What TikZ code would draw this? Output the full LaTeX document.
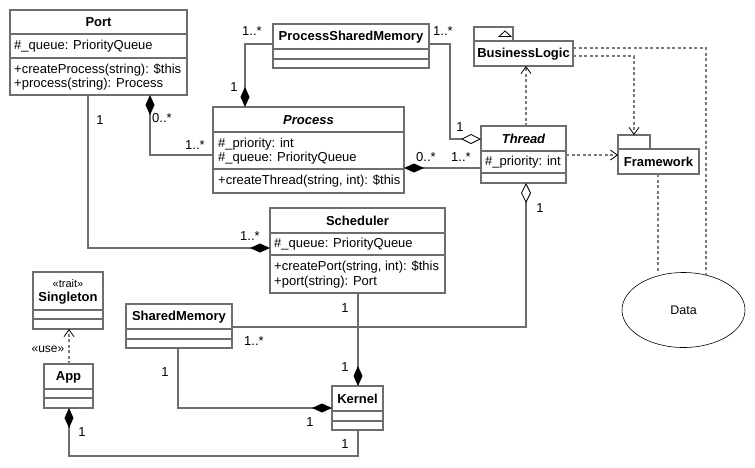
\documentclass[tikz,border=0pt]{standalone}
\usepackage{fontspec}
\setmainfont{Liberation Sans}
\usetikzlibrary{arrows.meta,shapes.geometric,calc}
\definecolor{lc}{HTML}{6E6E6E}
\definecolor{dc}{HTML}{7A7A7A}
\tikzset{
  classbox/.style={draw=lc, line width=1.4pt, inner sep=0pt, outer sep=0pt, fill=white},
  sepline/.style={draw=lc, line width=1.4pt},
  conn/.style={draw=lc, line width=1.4pt},
  depline/.style={draw=dc, line width=1.4pt, dash pattern=on 3pt off 2.5pt},
  title/.style={font=\fontsize{13}{14}\selectfont\bfseries, inner sep=0pt, anchor=center},
  ititle/.style={font=\fontsize{13}{14}\selectfont\bfseries\itshape, inner sep=0pt, anchor=center},
  member/.style={font=\fontsize{13}{14}\selectfont, inner sep=0pt, anchor=west, align=left},
  mult/.style={font=\fontsize{13}{14}\selectfont, inner sep=0pt, anchor=center},
  comp/.style={-{Diamond[length=20pt,width=9pt,fill=black,color=black]}},
  aggr/.style={-{Diamond[open,length=20pt,width=10pt,color=black,line width=0.8pt]}},
  dep/.style={-{Straight Barb[length=7pt,width=10pt,color=black,line width=0.8pt]}},
}
\newcommand{\umlclass}[7]{%
  \node[classbox, anchor=north west, minimum width={(#4-#2)*1pt}, minimum height={(#5-#3)*1pt}] (#1) at (#2,#3) {};
  \draw[sepline] (#2,#6) -- (#4,#6);
  \draw[sepline] (#2,#7) -- (#4,#7);
}
\begin{document}
\begin{tikzpicture}[x=1pt,y=-1pt]
\useasboundingbox[fill=white] (0,0) rectangle (755,467);

% ---- classes ----
\umlclass{port}{10}{10}{187}{95}{34}{58}
\node[title] (portT) at (98.5,22) {Port};
\node[member] (portA) at (14,46) {\#\_queue: PriorityQueue};
\node[member] (portM1) at (14,70) {+createProcess(string): \$this};
\node[member] (portM2) at (14,84) {+process(string): Process};

\umlclass{psm}{273}{24}{429}{68}{49}{59}
\node[title] (psmT) at (351,37) {ProcessSharedMemory};

\umlclass{proc}{213}{107}{404}{193}{132}{169}
\node[ititle] (procT) at (308.5,120) {Process};
\node[member] (procA1) at (218,144) {\#\_priority: int};
\node[member] (procA2) at (218,158) {\#\_queue: PriorityQueue};
\node[member] (procM1) at (218,181) {+createThread(string, int): \$this};

% BusinessLogic (with tab)
\draw[classbox] (474,41) -- (474,27) -- (513,27) -- (513,41);
\draw[draw=black, line width=0.8pt] (499,36.5) -- (511,36.5) -- (505,31) -- cycle;
\node[classbox, anchor=north west, minimum width=99pt, minimum height=25pt] (bl) at (474,41) {};
\node[title] (blT) at (523.5,54) {BusinessLogic};

\umlclass{thread}{481}{126}{566}{183}{151}{173}
\node[ititle] (threadT) at (523.5,138.5) {Thread};
\node[member] (threadA) at (485,162) {\#\_priority: int};

% Framework (with tab)
\draw[classbox] (618,149) -- (618,135) -- (650,135) -- (650,149);
\node[classbox, anchor=north west, minimum width=81pt, minimum height=25pt] (fw) at (618,149) {};
\node[title] (fwT) at (658.5,162) {Framework};

\umlclass{sched}{270}{208}{445}{293}{233}{255}
\node[title] (schedT) at (357.5,221) {Scheduler};
\node[member] (schedA) at (274,244) {\#\_queue: PriorityQueue};
\node[member] (schedM1) at (274,267) {+createPort(string, int): \$this};
\node[member] (schedM2) at (274,282) {+port(string): Port};

\umlclass{single}{33}{272}{103}{329}{310}{319}
\node[font=\fontsize{11}{12}\selectfont, inner sep=0pt] (singleS) at (68,284) {«trait»};
\node[title] (singleT) at (68,298.5) {Singleton};

\umlclass{shm}{126}{304}{232}{348}{329}{339}
\node[title] (shmT) at (179,317) {SharedMemory};

\umlclass{app}{44}{364}{93}{408}{389}{398}
\node[title] (appT) at (68.5,377) {App};

\umlclass{kern}{332}{386}{383}{430}{411}{421}
\node[title] (kernT) at (357.5,399) {Kernel};

\node[draw=black, line width=0.6pt, ellipse, minimum width=123pt, minimum height=75pt, inner sep=0pt, font=\fontsize{12.5}{14}\selectfont] (data) at (683.5,310) {Data};

% ---- connectors ----
% Port - Scheduler
\draw[conn, comp] (port.south -| 88,0) |- (sched.west |- 0,248);
\node[mult] at (100,120) {1};
\node[mult] at (250,236) {1..*};

% Process - Port
\draw[conn, comp] (proc.west |- 0,155) -| (port.south -| 150,0);
\node[mult] at (162,118) {0..*};
\node[mult] at (195,145) {1..*};

% PSM - Process
\draw[conn, comp] (psm.west |- 0,44) -| (proc.north -| 245,0);
\node[mult] at (252,31) {1..*};
\node[mult] at (234,87) {1};

% PSM - Thread
\coordinate (psmThr) at (450,139);
\draw[conn, aggr] (psm.east |- 0,44) -| (psmThr) -- (thread.west |- psmThr);
\node[mult] at (443,31) {1..*};
\node[mult] at (460,127) {1};

% Process - Thread
\draw[conn, comp] (thread.west |- 0,168) -- (proc.east |- 0,168);
\node[mult] at (426,157) {0..*};
\node[mult] at (461,157) {1..*};

% Thread - SharedMemory
\coordinate (thrShm) at (526,327);
\draw[conn, aggr] (shm.east |- thrShm) -| (thread.south -| thrShm);
\node[mult] at (540,208) {1};
\node[mult] at (254,341) {1..*};

% Scheduler - Kernel
\draw[conn, comp] (sched.south -| 358,0) -- (kern.north -| 358,0);
\node[mult] at (345,308) {1};
\node[mult] at (345,367) {1};

% SharedMemory - Kernel
\draw[conn, comp] (shm.south -| 178,0) |- (kern.west |- 0,408);
\node[mult] at (165,372) {1};
\node[mult] at (310,422) {1};

% Kernel - App
\coordinate (kaCorner) at (358,456);
\draw[conn, comp] (kern.south -| kaCorner) -- (kaCorner) -| (app.south -| 69,0);
\node[mult] at (82,432) {1};
\node[mult] at (345,444) {1};

% App - Singleton
\draw[depline, dep] (app.north -| 69,0) -- (single.south -| 69,0);
\node[font=\fontsize{12}{13}\selectfont, inner sep=0pt] (use) at (48,349) {«use»};

% Thread - BusinessLogic
\draw[depline, dep] (thread.north -| 526,0) -- (bl.south -| 526,0);
% Thread - Framework
\draw[depline, dep] (thread.east |- 0,155) -- (fw.west |- 0,155);
% BusinessLogic - Framework
\draw[depline, dep] (bl.east |- 0,56) -| (634,135);
% BusinessLogic - Data
\draw[depline] (bl.east |- 0,48) -| (706,276);
% Framework - Data
\draw[depline] (fw.south -| 658,0) -- (658,273);
\end{tikzpicture}
\end{document}
